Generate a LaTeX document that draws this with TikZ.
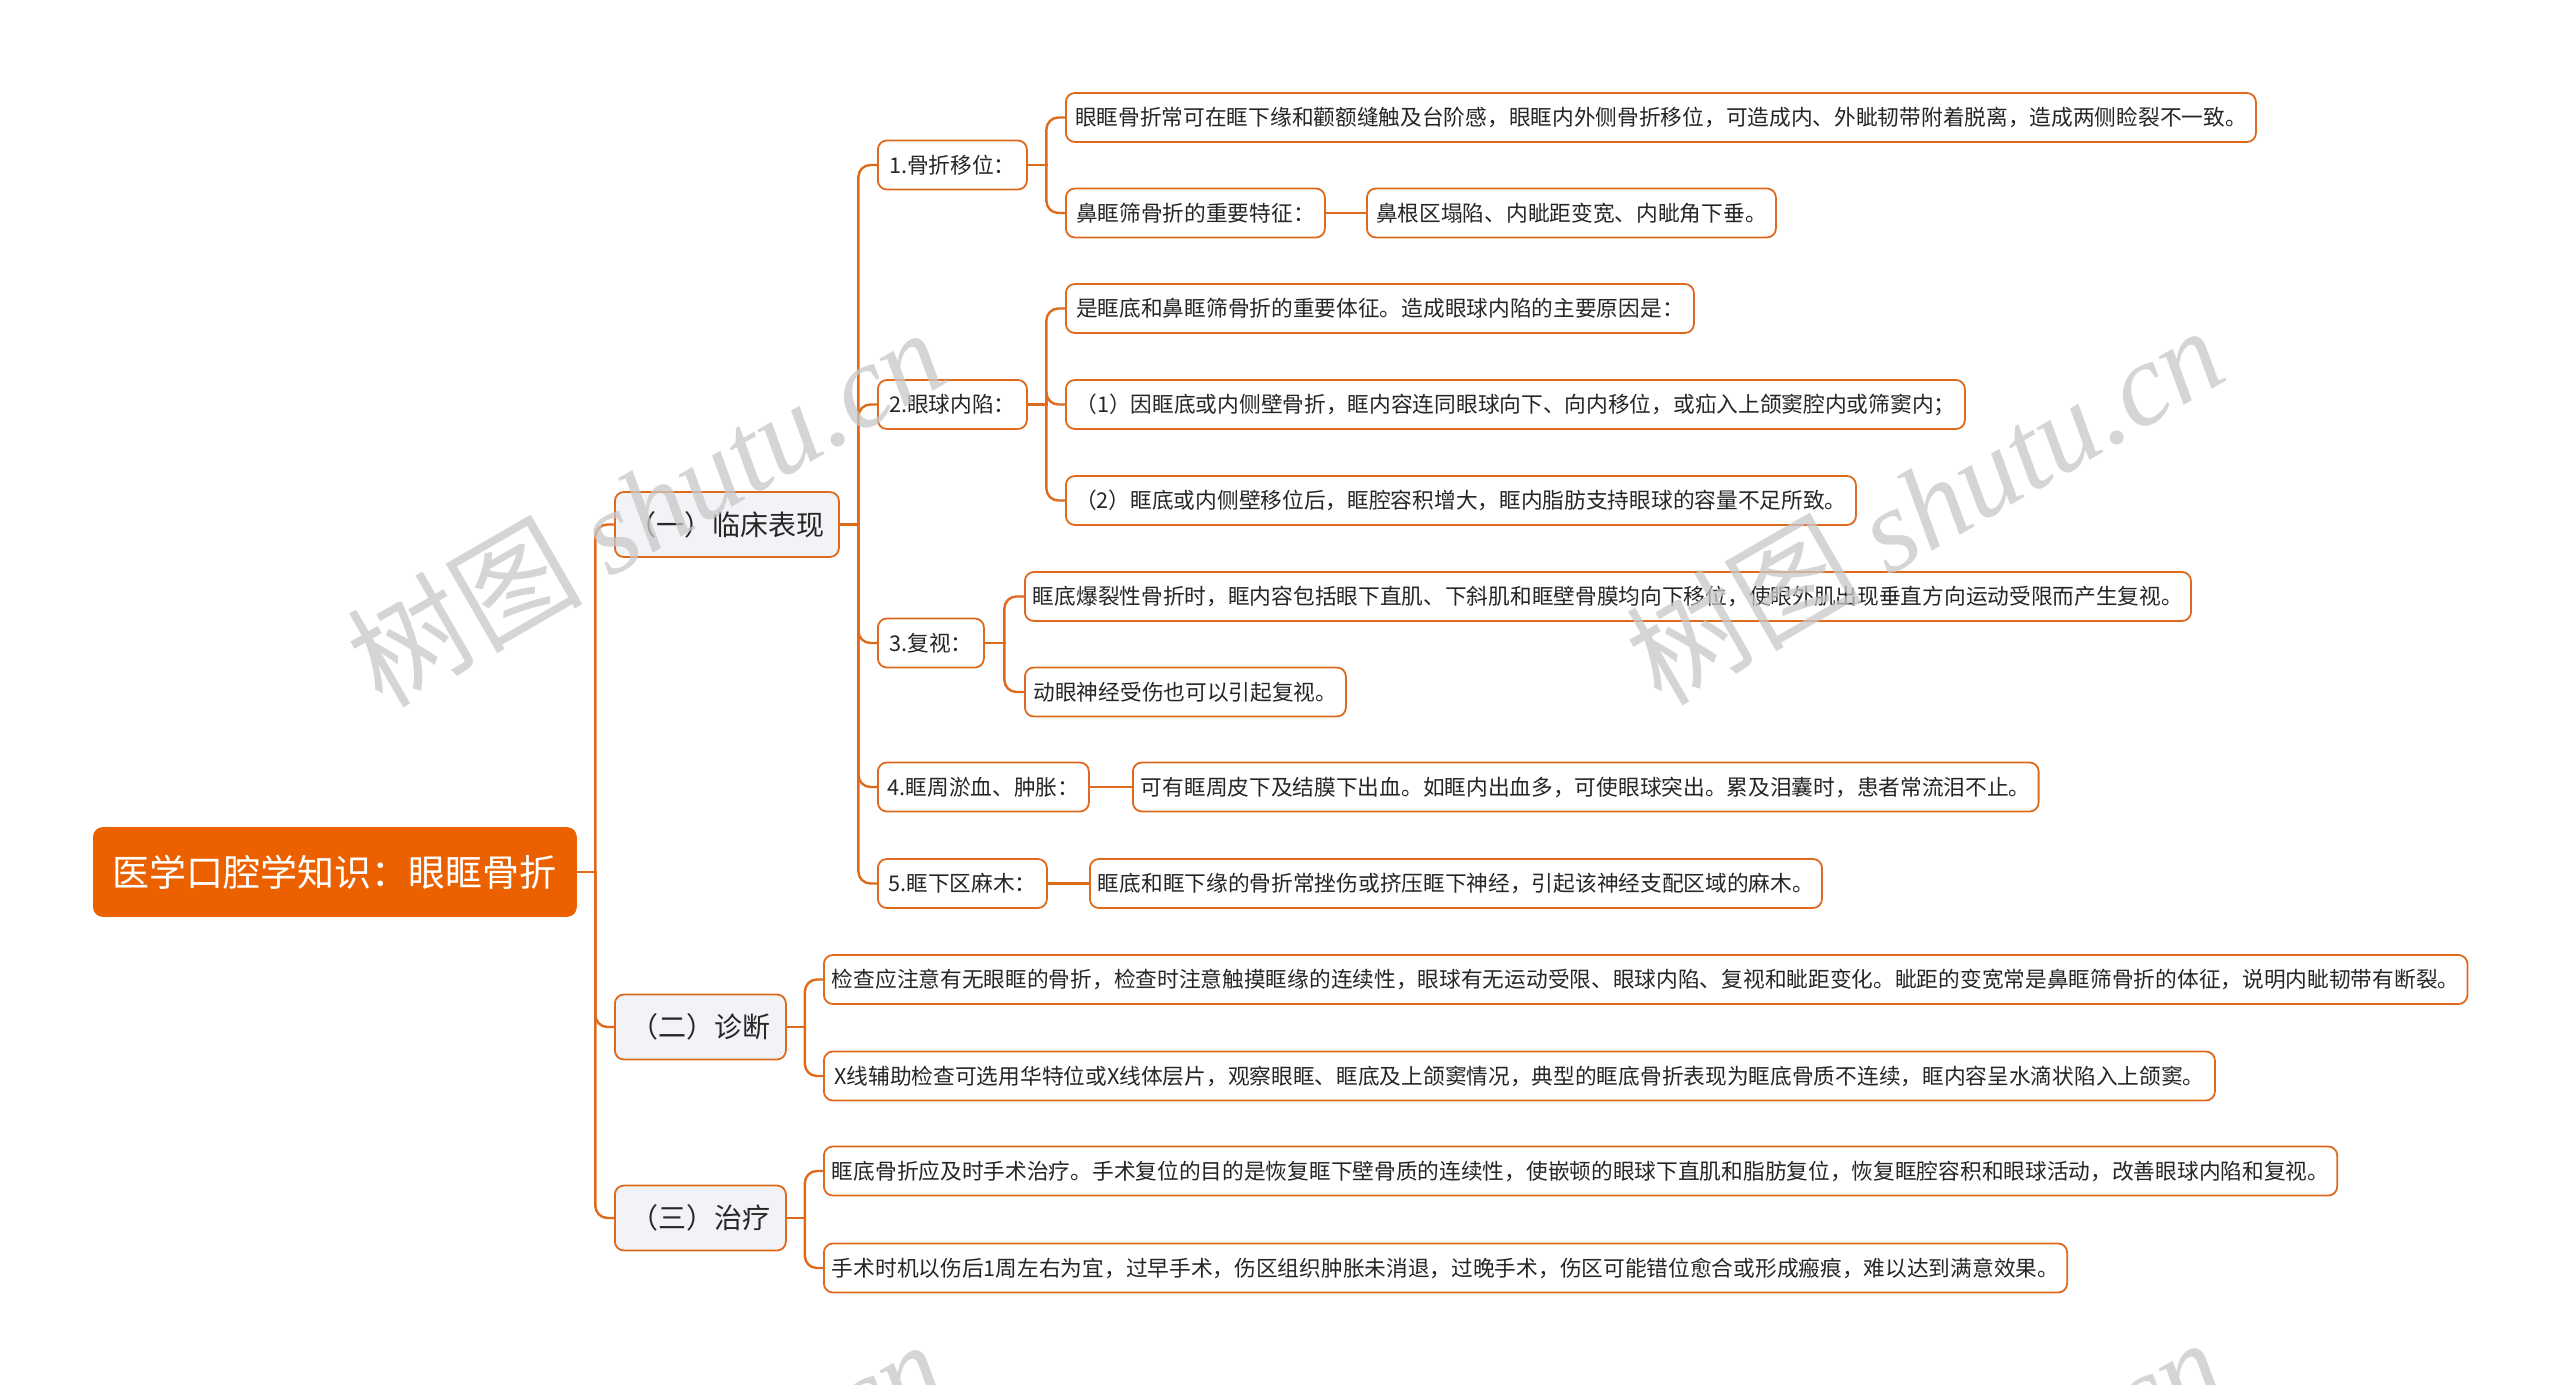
\documentclass[tikz,border=0pt]{standalone}
\usepackage{fontspec}
\newfontfamily\cjk{Noto Sans CJK SC}
\newfontfamily\wmlat{Liberation Serif}
\usetikzlibrary{calc}
\definecolor{brd}{HTML}{DE6A1E}
\definecolor{rootfill}{HTML}{EB6100}
\definecolor{lonefill}{HTML}{F1F3F6}
\definecolor{txt}{HTML}{262626}
\definecolor{wm}{HTML}{C8C8C8}
\tikzset{
  box/.style={draw=brd, line width=0.9pt, rounded corners=4.5pt, fill=white, text=txt,
    anchor=west, inner xsep=4pt, inner ysep=0pt, minimum height=24.5pt,
    font=\cjk\fontsize{10.85pt}{12pt}\selectfont},
  rootbox/.style={box, fill=rootfill, draw=rootfill, text=white, minimum height=44pt,
    font=\cjk\fontsize{18.5pt}{22pt}\selectfont},
  lone/.style={box, fill=lonefill, minimum height=32.5pt,
    font=\cjk\fontsize{14pt}{16pt}\selectfont},
  conn/.style={draw=brd, line width=1.2pt, line cap=rect},
  wmark/.style={text=wm, opacity=0.75, rotate=30, anchor=center,
    font=\fontsize{59pt}{63pt}\selectfont},
}
\newcommand\fork[2]{%
  \path (#1.east) -- (#1.east -| #2.west) coordinate[pos=0.5] (#1-#2-bus);
  \draw[conn] (#1.east) -- (#1-#2-bus);
  \draw[conn, rounded corners=6pt] (#1-#2-bus) |- (#2.west);
}
\begin{document}
\begin{tikzpicture}[x=0.5pt, y=-0.5pt]
\path[use as bounding box, fill=white] (0,0) rectangle (2560,1385);

% root
\node[rootbox, minimum width=241pt] (root) at (93,872) {医学口腔学知识：眼眶骨折};

% level 1
\node[lone, minimum width=112pt] (A) at (614,524.5) {（一）临床表现};
\node[lone, minimum width=85.5pt] (B) at (614,1027) {（二）诊断};
\node[lone, minimum width=85.5pt] (C) at (614,1218) {（三）治疗};

% level 2
\node[box, minimum width=74.5pt] (A1) at (877,165) {1.骨折移位：};
\node[box, minimum width=74.5pt] (A2) at (877,404.5) {2.眼球内陷：};
\node[box, minimum width=53pt] (A3) at (877,643) {3.复视：};
\node[box, minimum width=105.5pt] (A4) at (877,787) {4.眶周淤血、肿胀：};
\node[box, minimum width=84.5pt] (A5) at (877,883.5) {5.眶下区麻木：};

% level 3
\node[box, minimum width=595pt] (A1a) at (1065,117.5) {眼眶骨折常可在眶下缘和颧额缝触及台阶感，眼眶内外侧骨折移位，可造成内、外眦韧带附着脱离，造成两侧睑裂不一致。};
\node[box, minimum width=129.5pt] (A1b) at (1065,213) {鼻眶筛骨折的重要特征：};
\node[box, minimum width=204.5pt] (A1c) at (1366,213) {鼻根区塌陷、内眦距变宽、内眦角下垂。};

\node[box, minimum width=314pt] (A2a) at (1065,308.5) {是眶底和鼻眶筛骨折的重要体征。造成眼球内陷的主要原因是：};
\node[box, minimum width=449.5pt] (A2b) at (1065,404.5) {（1）因眶底或内侧壁骨折，眶内容连同眼球向下、向内移位，或疝入上颌窦腔内或筛窦内；};
\node[box, minimum width=395pt] (A2c) at (1065,500.5) {（2）眶底或内侧壁移位后，眶腔容积增大，眶内脂肪支持眼球的容量不足所致。};

\node[box, minimum width=582.5pt] (A3a) at (1024,596.5) {眶底爆裂性骨折时，眶内容包括眼下直肌、下斜肌和眶壁骨膜均向下移位，使眼外肌出现垂直方向运动受限而产生复视。};
\node[box, minimum width=160.5pt] (A3b) at (1024,692) {动眼神经受伤也可以引起复视。};

\node[box, minimum width=452.5pt] (A4a) at (1132,787) {可有眶周皮下及结膜下出血。如眶内出血多，可使眼球突出。累及泪囊时，患者常流泪不止。};
\node[box, minimum width=366pt] (A5a) at (1089,883.5) {眶底和眶下缘的骨折常挫伤或挤压眶下神经，引起该神经支配区域的麻木。};

\node[box, minimum width=821.5pt] (B1) at (823,979.5) {检查应注意有无眼眶的骨折，检查时注意触摸眶缘的连续性，眼球有无运动受限、眼球内陷、复视和眦距变化。眦距的变宽常是鼻眶筛骨折的体征，说明内眦韧带有断裂。};
\node[box, minimum width=695.5pt] (B2) at (823,1076) {X线辅助检查可选用华特位或X线体层片，观察眼眶、眶底及上颌窦情况，典型的眶底骨折表现为眶底骨质不连续，眶内容呈水滴状陷入上颌窦。};

\node[box, minimum width=756.5pt] (C1) at (823,1171) {眶底骨折应及时手术治疗。手术复位的目的是恢复眶下壁骨质的连续性，使嵌顿的眼球下直肌和脂肪复位，恢复眶腔容积和眼球活动，改善眼球内陷和复视。};
\node[box, minimum width=621pt] (C2) at (823,1268) {手术时机以伤后1周左右为宜，过早手术，伤区组织肿胀未消退，过晚手术，伤区可能错位愈合或形成瘢痕，难以达到满意效果。};

% connectors
\fork{root}{A}\fork{root}{B}\fork{root}{C}
\fork{A}{A1}\fork{A}{A2}\fork{A}{A3}\fork{A}{A4}\fork{A}{A5}
\fork{A1}{A1a}\fork{A1}{A1b}
\draw[conn] (A1b.east) -- (A1c.west);
\fork{A2}{A2a}\fork{A2}{A2b}\fork{A2}{A2c}
\fork{A3}{A3a}\fork{A3}{A3b}
\draw[conn] (A4.east) -- (A4a.west);
\draw[conn] (A5.east) -- (A5a.west);
\fork{B}{B1}\fork{B}{B2}
\fork{C}{C1}\fork{C}{C2}

% watermarks
\begin{scope}
\clip (0,0) rectangle (2560,1385);
\node[wmark] (wm1) at (645,506) {\cjk 树图 \wmlat\itshape shutu.cn};
\node[wmark] (wm2) at (1924,504) {\cjk 树图 \wmlat\itshape shutu.cn};
\node[wmark] (wm3) at (645,1518) {\cjk 树图 \wmlat\itshape shutu.cn};
\node[wmark] (wm4) at (1924,1516) {\cjk 树图 \wmlat\itshape shutu.cn};
\end{scope}
\end{tikzpicture}
\end{document}
